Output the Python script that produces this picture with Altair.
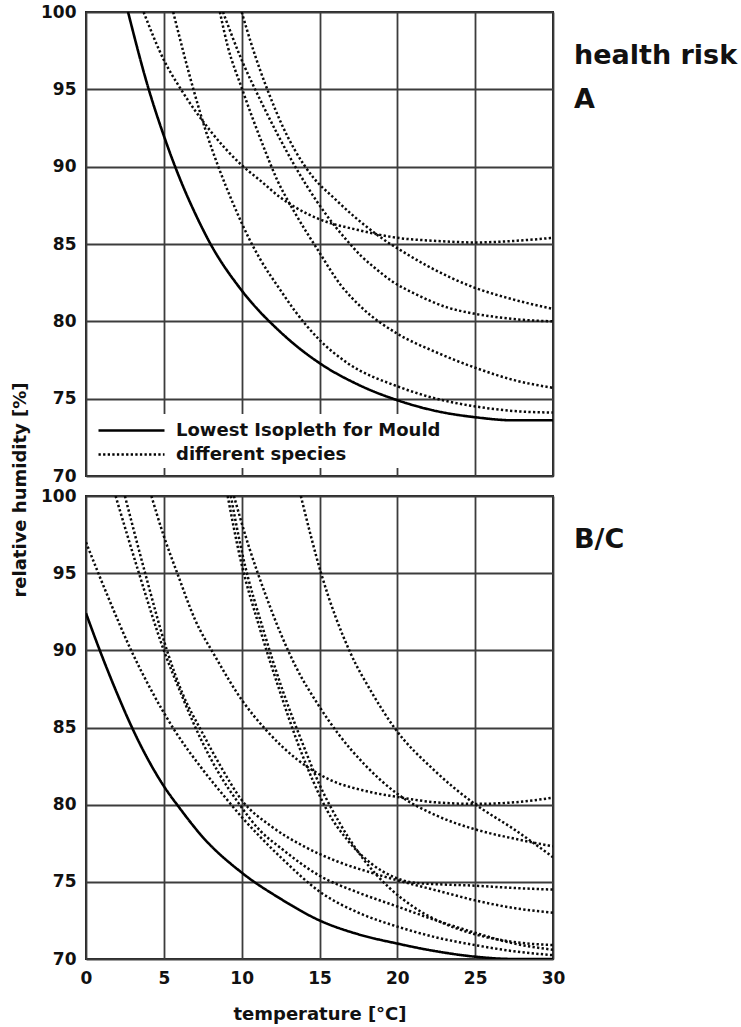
import altair as alt
import pandas as pd

FONT = "DejaVu Sans"
KINDS = ["Lowest Isopleth for Mould", "different species"]
X_TICKS = [0, 5, 10, 15, 20, 25, 30]
Y_TICKS = [70, 75, 80, 85, 90, 95, 100]
PANEL_A_LABELS = ["health risk", "A"]
PANEL_BC_LABELS = ["B/C"]
Y_TITLE = "relative humidity [%]"
X_TITLE = "temperature [°C]"

# ---------------- panel A (health risk) ----------------
A_SOLID_T = [2.7, 4, 5, 6, 7, 8, 10, 12.5, 15, 17.5, 20, 22.5, 25, 27.5, 30]
A_SOLID_RH = [100, 95.1, 92.0, 89.3, 87.0, 85.0, 82.0, 79.3, 77.3, 75.9, 74.9, 74.2, 73.8, 73.6, 73.6]

A_S1_T = [3.7, 5, 6.1, 8, 10, 11.2, 12.5, 13.4, 15, 17.5, 20, 22.5, 25, 27.5, 30]
A_S1_RH = [100, 96.9, 95, 92.3, 90.1, 89.1, 88.0, 87.4, 86.6, 85.9, 85.4, 85.2, 85.1, 85.2, 85.4]

A_S2_T = [5.6, 6.9, 7.7, 8.5, 9.5, 10.5, 11.2, 12.5, 13.4, 15, 16.8, 20, 22.5, 25, 27.5, 30]
A_S2_RH = [100, 95, 92.3, 90, 87.5, 85.3, 84.0, 82.0, 80.7, 78.8, 77.3, 75.8, 75.0, 74.5, 74.2, 74.1]

A_S3_T = [8.6, 9.1, 10, 11.4, 12.3, 13.2, 14.9, 16.4, 17.7, 20, 22.5, 25, 27.5, 30]
A_S3_RH = [100, 97.8, 95.1, 91.3, 89.1, 87.4, 84.6, 82.3, 80.9, 79.2, 78.0, 77.0, 76.2, 75.7]

A_S4_T = [8.8, 10, 11.3, 12.3, 13.5, 14.8, 15.8, 16.7, 17.7, 18.5, 19.8, 21.1, 23.2, 24.9, 26.2, 28, 30]
A_S4_RH = [100, 96.9, 94.1, 92.1, 89.9, 87.8, 86.4, 85.3, 84.2, 83.5, 82.5, 81.8, 80.9, 80.5, 80.3, 80.1, 80.0]

A_S5_T = [10, 10.6, 11.2, 11.8, 12.5, 13.4, 14.6, 15.9, 17.2, 18.7, 19.4, 20.2, 21.9, 24.9, 27.5, 30]
A_S5_RH = [100, 98, 96.2, 94.6, 92.9, 91.1, 89.3, 88.0, 86.8, 85.6, 85.1, 84.6, 83.6, 82.2, 81.4, 80.8]

# ---------------- panel B/C ----------------
B_SOLID_T = [0, 1, 2, 3, 4, 5, 6, 7.5, 10, 12.5, 15, 17.5, 20, 22.5, 25, 27.5, 30]
B_SOLID_RH = [92.4, 89.7, 87.2, 84.9, 82.9, 81.2, 79.8, 77.9, 75.6, 73.9, 72.5, 71.6, 71.0, 70.5, 70.15, 70.0, 70.0]

B_S1_T = [0, 1.4, 2.9, 4.2, 5.7, 7.4, 9, 10, 11.2, 12.5, 15.1, 17.5, 20, 22.5, 25, 27.5, 30]
B_S1_RH = [97, 93.5, 90, 87.4, 84.8, 82.4, 80.4, 79.2, 77.9, 76.6, 74.3, 73.0, 72.1, 71.4, 70.9, 70.5, 70.25]

B_S2_T = [1.9, 3.4, 5, 6.1, 7.4, 8.5, 9.8, 11.2, 12.5, 15, 17.5, 20, 22.5, 25, 27.5, 30]
B_S2_RH = [100, 95, 90, 87.2, 84.2, 82.1, 80.1, 78.3, 77.2, 75.4, 74.3, 73.4, 72.5, 71.7, 71.0, 70.6]

B_S3_T = [2.5, 3.8, 5.2, 6.2, 7.4, 8.7, 10, 11.9, 14, 16.2, 18.3, 20, 22.5, 25, 27.5, 30]
B_S3_RH = [100, 95, 90, 87.2, 84.8, 82.4, 80.3, 78.6, 77.3, 76.3, 75.6, 75.1, 74.45, 73.8, 73.3, 73.0]

B_S4_T = [4.2, 5, 5.9, 7, 8.3, 10, 11.6, 13.6, 15.7, 17.9, 20, 22.5, 25, 27.5, 30]
B_S4_RH = [100, 97.4, 94.9, 92, 89.6, 86.8, 84.8, 82.9, 81.6, 80.9, 80.5, 80.15, 80.05, 80.15, 80.45]

B_S5_T = [9.1, 9.9, 11.2, 12.4, 13.6, 14.6, 15.5, 16.8, 18.3, 19.8, 21, 22.5, 25, 27.5, 30]
B_S5_RH = [100, 96, 91.3, 87.5, 84, 81.5, 79.6, 77.7, 76.2, 75.3, 74.95, 74.85, 74.75, 74.6, 74.5]

B_S6_T = [9.3, 10.1, 11.4, 12.6, 13.9, 15.0, 16.3, 17.8, 19.5, 21, 23, 25, 27.5, 30]
B_S6_RH = [100, 96, 91.3, 87.5, 84, 81.3, 78.8, 76.5, 74.6, 73.4, 72.3, 71.6, 71.1, 70.9]

B_S7_T = [9.5, 10.5, 11.5, 12.5, 13.5, 14.9, 16.2, 17.9, 20, 22.5, 25, 27.5, 30]
B_S7_RH = [100, 96.6, 93.7, 91.1, 88.9, 86.5, 84.6, 82.6, 80.7, 79.3, 78.4, 77.8, 77.3]

B_S8_T = [13.8, 15.1, 17, 18.4, 19.8, 22.4, 24.9, 27.5, 30]
B_S8_RH = [100, 95, 89.8, 87.2, 85, 82.2, 80.1, 78.4, 76.6]


def frame(series):
    rows = []
    for name, kind, ts, rhs in series:
        for t, rh in zip(ts, rhs):
            rows.append({"series": name, "kind": kind, "T": t, "RH": rh})
    return pd.DataFrame(rows)


df_a = frame([
    ("solid", KINDS[0], A_SOLID_T, A_SOLID_RH),
    ("s1", KINDS[1], A_S1_T, A_S1_RH),
    ("s2", KINDS[1], A_S2_T, A_S2_RH),
    ("s3", KINDS[1], A_S3_T, A_S3_RH),
    ("s4", KINDS[1], A_S4_T, A_S4_RH),
    ("s5", KINDS[1], A_S5_T, A_S5_RH),
])
df_b = frame([
    ("solid", KINDS[0], B_SOLID_T, B_SOLID_RH),
    ("s1", KINDS[1], B_S1_T, B_S1_RH),
    ("s2", KINDS[1], B_S2_T, B_S2_RH),
    ("s3", KINDS[1], B_S3_T, B_S3_RH),
    ("s4", KINDS[1], B_S4_T, B_S4_RH),
    ("s5", KINDS[1], B_S5_T, B_S5_RH),
    ("s6", KINDS[1], B_S6_T, B_S6_RH),
    ("s7", KINDS[1], B_S7_T, B_S7_RH),
    ("s8", KINDS[1], B_S8_T, B_S8_RH),
])

ONE = alt.Data(values=[{}])


def panel(df, labels, bottom, legend, h):
    x = alt.X("T:Q", scale=alt.Scale(domain=[0, 30], nice=False, zero=False),
              axis=alt.Axis(values=X_TICKS, grid=True, ticks=False, domain=False,
                            labels=bottom, labelFlush=False,
                            title=X_TITLE if bottom else None,
                            labelPadding=11, titlePadding=19))
    y = alt.Y("RH:Q", scale=alt.Scale(domain=[70, 100], nice=False, zero=False),
              axis=alt.Axis(values=Y_TICKS, grid=True, ticks=False, domain=False,
                            labelFlush=False, title=None, labelPadding=10))
    dash = alt.StrokeDash("kind:N", scale=alt.Scale(domain=KINDS, range=[[1, 0], [2.3, 2.3]]),
                          legend=legend)
    base = alt.Chart(df)
    dotted = base.transform_filter(alt.datum.kind == KINDS[1]).mark_line(
        interpolate="monotone", strokeWidth=2.5, color="#0a0a0a", clip=True
    ).encode(x=x, y=y, detail="series:N", strokeDash=dash)
    solid = base.transform_filter(alt.datum.kind == KINDS[0]).mark_line(
        interpolate="monotone", strokeWidth=2.6, color="#000000", clip=True
    ).encode(x=x, y=y, detail="series:N", strokeDash=dash)
    layers = [dotted, solid]
    for i, lab in enumerate(labels):
        layers.append(
            alt.Chart(ONE).mark_text(text=lab, align="left", baseline="alphabetic", font=FONT,
                                     fontSize=27, fontWeight="bold", color="#111")
            .encode(x=alt.value(488), y=alt.value(52 + 44 * i))
        )
    if not bottom:
        layers.append(
            alt.Chart(ONE).mark_text(text=Y_TITLE, angle=270, align="center", baseline="middle",
                                     font=FONT, fontSize=18, fontWeight="bold", color="#111")
            .encode(x=alt.value(-65), y=alt.value(h + 14))
        )
    return alt.layer(*layers).properties(width=467, height=h)


legend_top = alt.Legend(
    orient="none", legendX=29, legendY=402, title=None,
    symbolType="M-3,0H3", symbolSize=484, symbolStrokeWidth=2.5, symbolStrokeColor="#000",
    symbolFillColor="transparent",
    labelFont=FONT, labelFontSize=18, labelFontWeight="bold", labelColor="#111",
    labelOffset=32, labelLimit=0, rowPadding=2, padding=4, fillColor="white",
)

top = panel(df_a, PANEL_A_LABELS, False, legend_top, 464)
bottom = panel(df_b, PANEL_BC_LABELS, True, None, 463)

chart = alt.vconcat(top, bottom, spacing=20, bounds="flush").resolve_scale(
    strokeDash="independent"
).resolve_legend(strokeDash="independent").properties(
    padding={"left": 11, "top": 2, "right": 0, "bottom": 0}
).configure(font=FONT).configure_view(
    stroke="#222", strokeWidth=2
).configure_axis(
    gridColor="#3c3c3c", gridWidth=1.8, gridOpacity=1,
    labelFont=FONT, labelFontSize=17, labelFontWeight="bold", labelColor="#111",
    titleFont=FONT, titleFontSize=18, titleFontWeight="bold", titleColor="#111",
)

chart.save("out.html", embed_options={"renderer": "svg", "actions": False})
